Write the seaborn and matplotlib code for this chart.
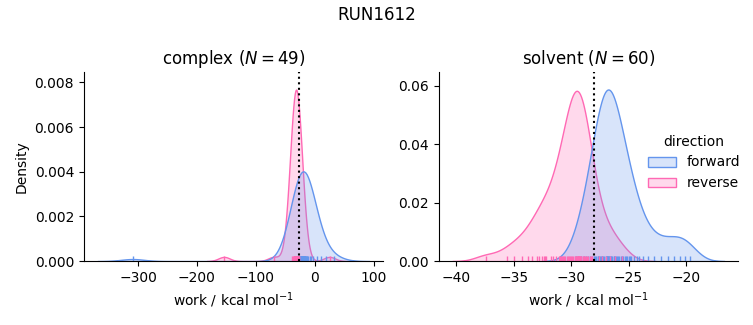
import numpy as np
import pandas as pd
import matplotlib
matplotlib.use("Agg")
import matplotlib.pyplot as plt
import seaborn as sns

# ---- data (work values, kcal/mol) ----
complex_forward = [
    -309.0,
    -33, -31, -30, -29, -28, -27, -26, -26, -25, -25, -24, -24, -23, -23,
    -22, -22, -22, -21, -21, -21, -20, -20, -20, -20, -19, -19, -19, -18,
    -18, -18, -17, -17, -16, -16, -15, -15, -14, -13, -11, -9, -6,
    -3, 4, 11, 19, 33, -21, -19,
]
complex_reverse = [
    -154.0, -69.5, 25.0,
    -39, -37, -36, -35, -35, -34, -34, -34, -33, -33, -33, -33, -33, -32,
    -32, -32, -32, -32, -32, -31, -31, -31, -31, -31, -31, -30, -30, -30,
    -30, -29, -29, -29, -28, -28, -27, -26, -33, -32, -31, -30, -34, -32,
]
solvent_forward = [
    -29.6, -29.1, -28.7, -28.4, -28.2, -28.0, -27.8, -27.7, -27.6, -27.5,
    -27.4, -27.3, -27.2, -27.1, -27.0, -27.0, -26.9, -26.9, -26.8, -26.8,
    -26.7, -26.7, -26.6, -26.5, -26.4, -26.3, -26.2, -26.1, -26.0, -25.9,
    -25.8, -25.7, -25.5, -25.3, -25.1, -24.9, -28.9, -27.9, -27.35, -26.85,
    -26.55, -26.25, -25.6, -25.2, -28.5, -27.65, -25.0, -24.8,
    -24.5, -24.1, -23.7, -23.3, -22.8, -22.2, -21.6,
    -21.0, -20.5, -20.1, -19.6, -24.3,
]
solvent_reverse = [
    -37.4, -35.6, -35.0, -34.3, -33.8, -33.4, -33.0, -32.8, -32.5, -32.4,
    -32.3, -32.2, -31.8, -31.55, -31.3, -31.1, -31.0, -30.9,
    -30.8, -30.7, -30.6, -30.5, -30.4, -30.3, -30.2, -30.1, -30.0, -29.9,
    -29.8, -29.7, -29.7, -29.6, -29.5, -29.5, -29.4, -29.4, -29.4, -29.3,
    -29.3, -29.2, -29.2, -29.1, -29.0, -29.0, -28.9, -28.8, -28.7, -28.6,
    -28.5, -28.4, -28.3, -28.2, -29.3, -29.1, -27.6,
    -27.3, -27.0, -26.6, -26.2, -25.6,
]
phases = ["complex", "solvent"]
directions = ["forward", "reverse"]
n_works = {"complex": 49, "solvent": 60}
estimates = {"complex": -27.6, "solvent": -28.0}
colors = {"forward": "#6495ED", "reverse": "#FF69B4"}

rows = []
for ph, d, vals in [("complex", "forward", complex_forward),
                    ("complex", "reverse", complex_reverse),
                    ("solvent", "forward", solvent_forward),
                    ("solvent", "reverse", solvent_reverse)]:
    for v in vals:
        rows.append({"phase": ph, "direction": d, "work": v})
df = pd.DataFrame(rows)

g = sns.displot(data=df, x="work", hue="direction", col="phase", kind="kde",
                fill=True, rug=True, palette=colors, hue_order=directions,
                col_order=phases, height=3, aspect=1.1,
                facet_kws=dict(sharex=False, sharey=False))

for ax, ph in zip(g.axes.flat, phases):
    ax.axvline(estimates[ph], color="k", ls=":", lw=1.5)
    ax.set_title(f"{ph} ($N={n_works[ph]}$)", fontsize=12)
    ax.set_xlabel("work / kcal mol$^{-1}$")
g.axes.flat[0].set_ylabel("Density")

g.figure.set_size_inches(7.53, 3.25)
g.figure.suptitle("RUN1612", fontsize=12)
plt.tight_layout()
g.figure.savefig("out.png", dpi=100)
